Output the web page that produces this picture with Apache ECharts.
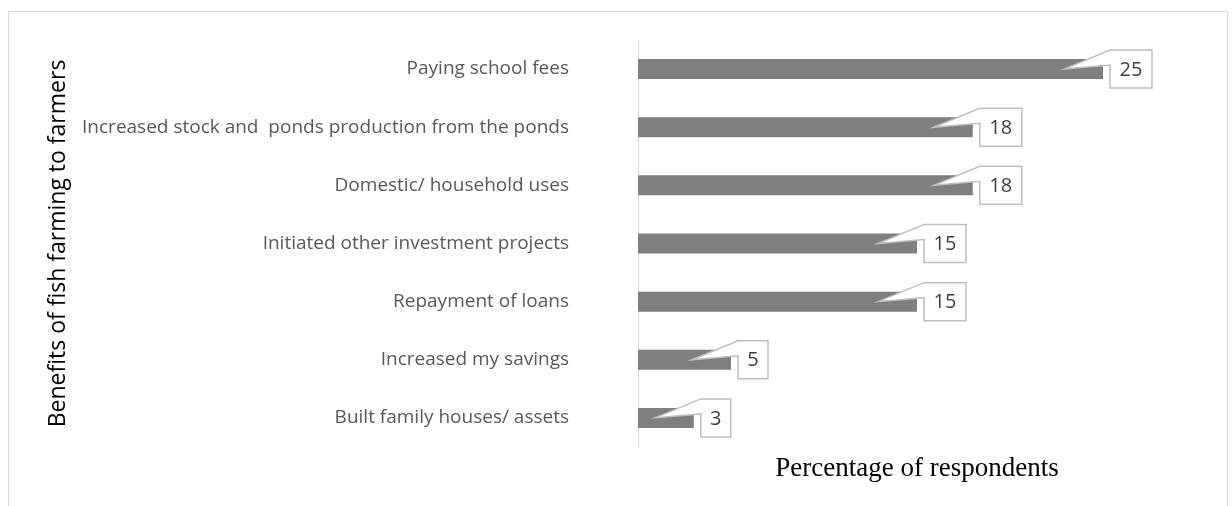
<!DOCTYPE html>
<html>
<head>
<meta charset="utf-8">
<script src="https://cdn.jsdelivr.net/npm/echarts@6/dist/echarts.min.js"></script>
<style>
  html, body { margin: 0; padding: 0; background: #ffffff; }
  #chart { width: 1232px; height: 506px; }
</style>
</head>
<body>
<div id="chart"></div>
<script>
// Benefits of fish farming, listed top to bottom
const categories = [
  'Paying school fees',
  'Increased stock and  ponds production from the ponds',
  'Domestic/ household uses',
  'Initiated other investment projects',
  'Repayment of loans',
  'Increased my savings',
  'Built family houses/ assets'
];
// Percentage of respondents for each benefit
const values = [25, 18, 18, 15, 15, 5, 3];

const xAxisTitle = 'Percentage of respondents';
const yAxisTitle = 'Benefits of fish farming to farmers';

const LABEL_FONT = '"Open Sans", sans-serif';
const LABEL_SIZE = 20;

// Canvas used to size the callout boxes around each value label
const measureCtx = document.createElement('canvas').getContext('2d');
function textWidth(str) {
  measureCtx.font = LABEL_SIZE + 'px ' + LABEL_FONT;
  return measureCtx.measureText(str).width;
}

// Callout: a boxed value label with a wedge pointing back into the bar end
function renderCallout(params, api) {
  const v = api.value(0);
  const pt = api.coord([v, api.value(1)]);
  const ex = pt[0];
  const cy = pt[1];
  const txt = String(v);
  const bw = Math.round(textWidth(txt) + 19);
  const bx = ex + 7;
  const half = 19;
  const tipX = ex - 39;
  return {
    type: 'group',
    children: [
      {
        type: 'polygon',
        shape: {
          points: [
            [tipX, cy],
            [bx, cy - half],
            [bx + bw, cy - half],
            [bx + bw, cy + half],
            [bx, cy + half],
            [bx, cy - 4]
          ]
        },
        style: { fill: '#ffffff', stroke: '#bfbfbf', lineWidth: 1.5, lineJoin: 'miter' }
      },
      {
        type: 'text',
        style: {
          x: bx + bw / 2,
          y: cy + 1,
          text: txt,
          align: 'center',
          verticalAlign: 'middle',
          fontSize: LABEL_SIZE,
          fontFamily: LABEL_FONT,
          fill: '#404040'
        }
      }
    ]
  };
}

const chart = echarts.init(document.getElementById('chart'), null, { renderer: 'canvas' });

chart.setOption({
  animation: false,
  backgroundColor: '#ffffff',
  graphic: [
    {
      type: 'rect',
      z: -10,
      silent: true,
      shape: { x: 8.5, y: 11.5, width: 1219, height: 520 },
      style: { fill: 'none', stroke: '#d9d9d9', lineWidth: 1 }
    }
  ],
  grid: { left: 638, top: 40, width: 558, height: 407, containLabel: false },
  xAxis: {
    type: 'value',
    min: 0,
    max: 30,
    axisLine: { show: false },
    axisTick: { show: false },
    axisLabel: { show: false },
    splitLine: { show: false },
    name: xAxisTitle,
    nameLocation: 'middle',
    nameGap: 8,
    nameTextStyle: {
      fontFamily: '"Liberation Serif", "Times New Roman", serif',
      fontSize: 27,
      color: '#000000',
      verticalAlign: 'top'
    }
  },
  yAxis: {
    type: 'category',
    inverse: true,
    data: categories,
    axisLine: { show: true, lineStyle: { color: '#d9d9d9', width: 1 } },
    axisTick: { show: false },
    splitLine: { show: false },
    axisLabel: {
      margin: 69,
      fontFamily: LABEL_FONT,
      fontSize: 19,
      color: '#595959'
    },
    name: yAxisTitle,
    nameLocation: 'middle',
    nameRotate: 90,
    nameGap: 568,
    nameTextStyle: {
      fontFamily: LABEL_FONT,
      fontSize: 23,
      color: '#000000'
    }
  },
  series: [
    {
      type: 'bar',
      data: values,
      barWidth: 20,
      itemStyle: { color: '#7f7f7f' },
      silent: true
    },
    {
      type: 'custom',
      renderItem: renderCallout,
      encode: { x: 0, y: 1 },
      data: values.map(function (v, i) { return [v, i]; }),
      z: 5,
      silent: true
    }
  ]
});
</script>
</body>
</html>
